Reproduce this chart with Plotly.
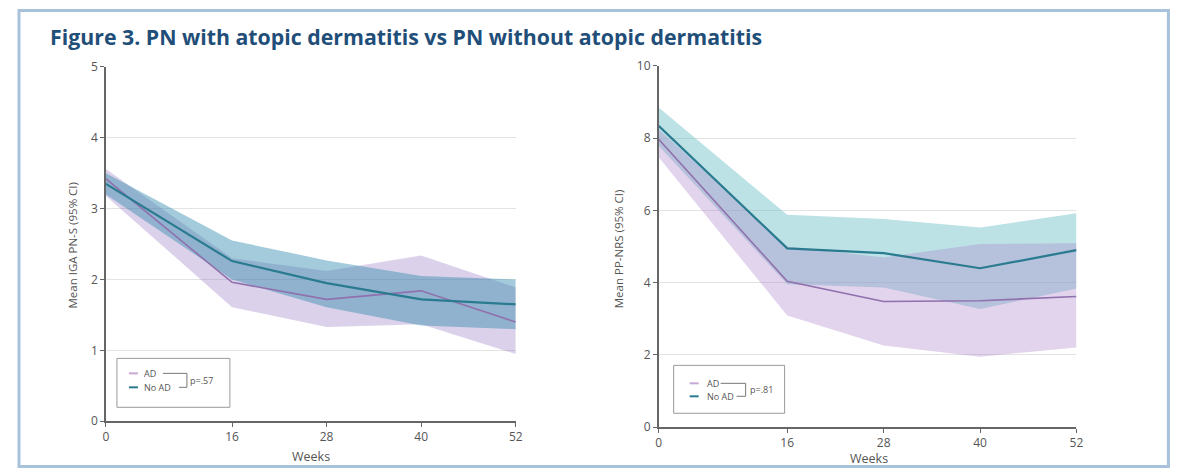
import plotly.graph_objects as go

W, H = 1178, 476

weeks = [0, 16, 28, 40, 52]
tick_labels = ["0", "16", "28", "40", "52"]

# Left panel: IGA PN-S
iga_ad_mean = [3.42, 1.96, 1.72, 1.84, 1.40]
iga_ad_upper = [3.56, 2.30, 2.12, 2.34, 1.89]
iga_ad_lower = [3.18, 1.61, 1.33, 1.37, 0.95]
iga_noad_mean = [3.35, 2.26, 1.95, 1.72, 1.65]
iga_noad_upper = [3.50, 2.55, 2.27, 2.05, 2.00]
iga_noad_lower = [3.20, 2.00, 1.61, 1.35, 1.30]

# Right panel: PP-NRS
nrs_ad_mean = [7.97, 4.04, 3.48, 3.50, 3.62]
nrs_ad_upper = [8.25, 5.00, 4.70, 5.07, 5.09]
nrs_ad_lower = [7.47, 3.09, 2.26, 1.95, 2.21]
nrs_noad_mean = [8.34, 4.95, 4.82, 4.40, 4.90]
nrs_noad_upper = [8.85, 5.88, 5.76, 5.53, 5.92]
nrs_noad_lower = [7.79, 3.96, 3.87, 3.27, 3.84]

p_left = "p=.57"
p_right = "p=.81"

TEAL_LINE = "#2a7b90"
PURPLE_LINE = "#9070ad"
TXT = "#555555"
FONT = "Open Sans"

# observed page-to-picture mapping compensation
SX, AX = 0.992, 2.0
SY, AY = 0.966, 8.0


def px(x):
    return min(max((x - AX) / SX / W, 0.0), 1.0)


def py(y):
    return min(max(1 - (y - AY) / SY / H, 0.0), 1.0)


fig = go.Figure()


def band(xa, ya, up, lo, color):
    fig.add_trace(go.Scatter(x=weeks + weeks[::-1], y=up + lo[::-1], fill="toself",
                             fillcolor=color, line=dict(width=0), mode="lines",
                             xaxis=xa, yaxis=ya, hoverinfo="skip", showlegend=False))


def lines(xa, ya, ad_m, no_m):
    fig.add_trace(go.Scatter(x=weeks, y=ad_m, mode="lines", line=dict(color=PURPLE_LINE, width=1.6),
                             xaxis=xa, yaxis=ya, name="AD", showlegend=False))
    fig.add_trace(go.Scatter(x=weeks, y=no_m, mode="lines", line=dict(color=TEAL_LINE, width=2.2),
                             xaxis=xa, yaxis=ya, name="No AD", showlegend=False))


# Left: purple band under the teal band
band("x", "y", iga_ad_upper, iga_ad_lower, "rgba(150,115,190,0.33)")
band("x", "y", iga_noad_upper, iga_noad_lower, "rgba(50,140,175,0.45)")
lines("x", "y", iga_ad_mean, iga_noad_mean)

# Right: teal band under the purple band
band("x2", "y2", nrs_noad_upper, nrs_noad_lower, "rgba(95,185,195,0.42)")
band("x2", "y2", nrs_ad_upper, nrs_ad_lower, "rgba(170,130,200,0.34)")
lines("x2", "y2", nrs_ad_mean, nrs_noad_mean)

axis_common = dict(showline=True, linecolor="#666666", linewidth=1.5, ticks="outside",
                   ticklen=4, tickcolor="#666666", tickfont=dict(family=FONT, size=12, color=TXT),
                   zeroline=False, fixedrange=True)

fig.update_layout(
    width=W, height=H, margin=dict(l=0, r=0, t=0, b=0),
    paper_bgcolor="white", plot_bgcolor="rgba(0,0,0,0)",
    showlegend=False,
    xaxis=dict(domain=[px(105), px(515)], range=[0, 52], tickvals=weeks, ticktext=tick_labels,
               showgrid=False, anchor="y", **axis_common),
    yaxis=dict(domain=[py(421), py(66)], range=[0, 5], tickvals=[0, 1, 2, 3, 4, 5],
               showgrid=True, gridcolor="#e3e3e3", gridwidth=1, anchor="x", **axis_common),
    xaxis2=dict(domain=[px(658), px(1076)], range=[0, 52], tickvals=weeks, ticktext=tick_labels,
                showgrid=False, anchor="y2", **axis_common),
    yaxis2=dict(domain=[py(427), py(65)], range=[0, 10], tickvals=[0, 2, 4, 6, 8, 10],
                showgrid=True, gridcolor="#e3e3e3", gridwidth=1, anchor="x2", **axis_common),
)

ann = []
shapes = []

# Frame
shapes.append(dict(type="rect", xref="paper", yref="paper", x0=px(18), x1=px(1168),
                   y0=1.5 / H, y1=1 - 1.5 / H,
                   line=dict(color="#a8c2dc", width=3), layer="below"))


def text(t, x, y, size, color=TXT, xanchor="center", angle=0, bold=False):
    ann.append(dict(text=f"<b>{t}</b>" if bold else t, xref="paper", yref="paper", x=px(x), y=py(y),
                    xanchor=xanchor, yanchor="middle", textangle=angle, showarrow=False,
                    font=dict(family=FONT, size=size, color=color)))


text("Figure 3. PN with atopic dermatitis vs PN without atopic dermatitis", 47, 36, 21.3,
     color="#1f4e79", xanchor="left", bold=True)
text("Mean IGA PN-S (95% CI)", 72, 244, 11.5, angle=-90)
text("Mean PP-NRS (95% CI)", 618, 248, 11.5, angle=-90)
text("Weeks", 310, 456, 12.5)
text("Weeks", 868, 458, 12.5)


def legend(box, ad_y, no_y, sample_x, text_x, br_x0, br_x1, br_x2, p_x, p_text):
    bx0, by0, bx1, by1 = box
    shapes.append(dict(type="rect", xref="paper", yref="paper", x0=px(bx0), x1=px(bx1),
                       y0=py(by1), y1=py(by0), line=dict(color="#9a9a9a", width=1),
                       fillcolor="rgba(255,255,255,0)"))
    shapes.append(dict(type="line", xref="paper", yref="paper", x0=px(sample_x), x1=px(sample_x + 9),
                       y0=py(ad_y), y1=py(ad_y), line=dict(color="#c7a9d6", width=2)))
    shapes.append(dict(type="line", xref="paper", yref="paper", x0=px(sample_x), x1=px(sample_x + 9),
                       y0=py(no_y), y1=py(no_y), line=dict(color=TEAL_LINE, width=2)))
    shapes.append(dict(type="path", xref="paper", yref="paper",
                       path=f"M {px(br_x0)},{py(ad_y)} L {px(br_x2)},{py(ad_y)} L {px(br_x2)},{py(no_y)} L {px(br_x1)},{py(no_y)}",
                       line=dict(color="#777777", width=1)))
    text("AD", text_x, ad_y, 9, xanchor="left")
    text("No AD", text_x, no_y, 9, xanchor="left")
    text(p_text, p_x, (ad_y + no_y) / 2, 9, xanchor="left")


legend((116, 358, 229, 407), 373, 387, 128, 141, 162, 178, 186, 187, p_left)
legend((673, 365, 784, 413), 383, 396, 689, 704, 720, 736, 745, 747, p_right)

fig.update_layout(annotations=ann, shapes=shapes)

fig.write_html("out.html")
